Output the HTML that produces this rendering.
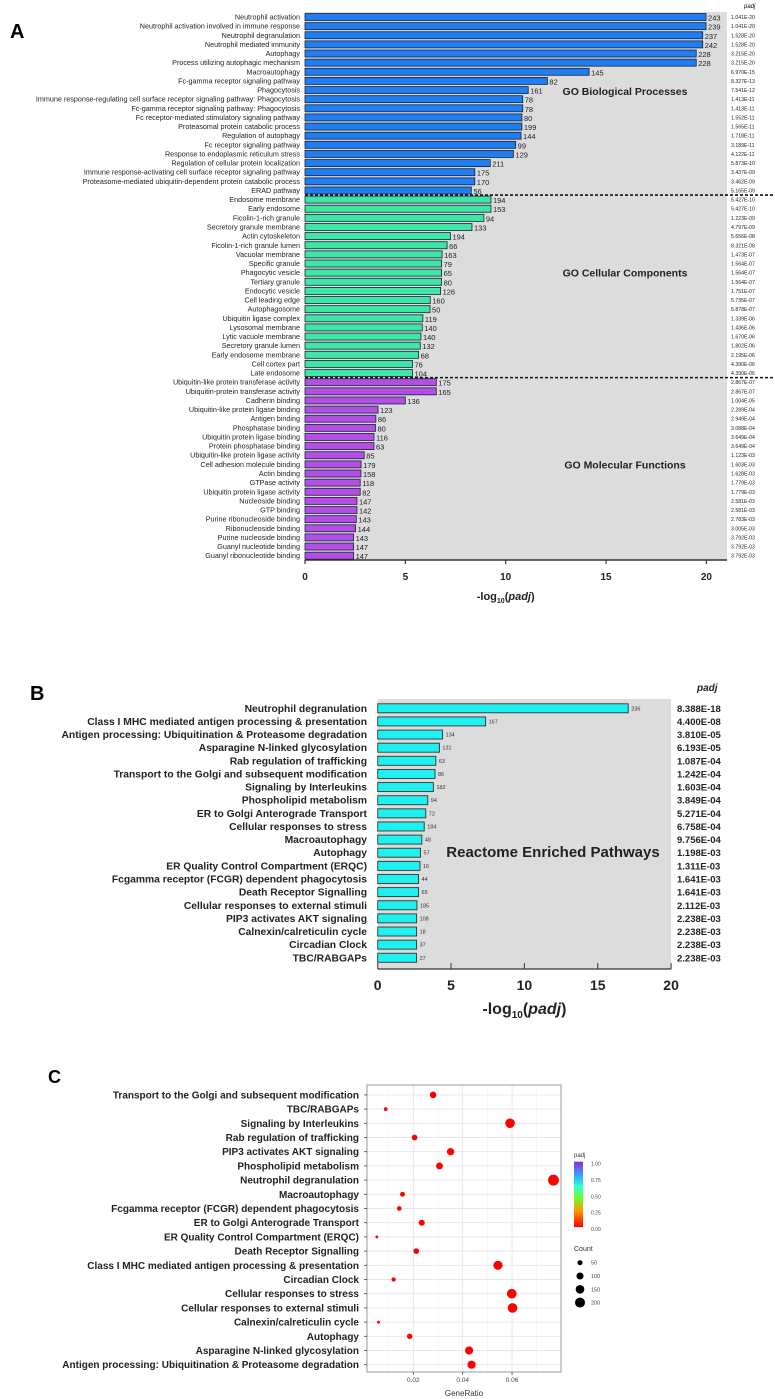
<!DOCTYPE html>
<html><head><meta charset="utf-8"><style>
html,body{margin:0;padding:0;background:#fff;}
svg{display:block;font-family:"Liberation Sans",sans-serif;}
</style></head><body>
<svg id="fig" width="775" height="1399" viewBox="0 0 775 1399" xmlns="http://www.w3.org/2000/svg"></svg>
<script>
// ---------- Panel A data ----------
const bpLabels=["Neutrophil activation","Neutrophil activation involved in immune response","Neutrophil degranulation","Neutrophil mediated immunity","Autophagy","Process utilizing autophagic mechanism","Macroautophagy","Fc-gamma receptor signaling pathway","Phagocytosis","Immune response-regulating cell surface receptor signaling pathway: Phagocytosis","Fc-gamma receptor signaling pathway: Phagocytosis","Fc receptor-mediated stimulatory signaling pathway","Proteasomal protein catabolic process","Regulation of autophagy","Fc receptor signaling pathway","Response to endoplasmic reticulum stress","Regulation of cellular protein localization","Immune response-activating cell surface receptor signaling pathway","Proteasome-mediated ubiquitin-dependent protein catabolic process","ERAD pathway"];
const bpPadj=[1.041e-20,1.041e-20,1.528e-20,1.528e-20,3.215e-20,3.215e-20,6.970e-15,8.327e-13,7.541e-12,1.413e-11,1.413e-11,1.552e-11,1.565e-11,1.718e-11,3.189e-11,4.122e-11,5.873e-10,3.437e-9,3.462e-9,5.165e-9];
const bpCounts=[243,239,237,242,228,228,145,82,161,78,78,80,199,144,99,129,211,175,170,56];
const ccLabels=["Endosome membrane","Early endosome","Ficolin-1-rich granule","Secretory granule membrane","Actin cytoskeleton","Ficolin-1-rich granule lumen","Vacuolar membrane","Specific granule","Phagocytic vesicle","Tertiary granule","Endocytic vesicle","Cell leading edge","Autophagosome","Ubiquitin ligase complex","Lysosomal membrane","Lytic vacuole membrane","Secretory granule lumen","Early endosome membrane","Cell cortex part","Late endosome"];
const ccPadj=[5.427e-10,5.427e-10,1.223e-9,4.797e-9,5.656e-8,8.321e-8,1.473e-7,1.564e-7,1.564e-7,1.564e-7,1.751e-7,5.735e-7,5.878e-7,1.339e-6,1.436e-6,1.670e-6,1.802e-6,2.195e-6,4.390e-6,4.390e-6];
const ccCounts=[194,153,94,133,194,66,163,79,65,80,126,160,50,119,140,140,132,68,76,104];
const mfLabels=["Ubiquitin-like protein transferase activity","Ubiquitin-protein transferase activity","Cadherin binding","Ubiquitin-like protein ligase binding","Antigen binding","Phosphatase binding","Ubiquitin protein ligase binding","Protein phosphatase binding","Ubiquitin-like protein ligase activity","Cell adhesion molecule binding","Actin binding","GTPase activity","Ubiquitin protein ligase activity","Nucleoside binding","GTP binding","Purine ribonucleoside binding","Ribonucleoside binding","Purine nucleoside binding","Guanyl nucleotide binding","Guanyl ribonucleotide binding"];
const mfPadj=[2.867e-7,2.867e-7,1.004e-5,2.289e-4,2.949e-4,3.088e-4,3.649e-4,3.649e-4,1.123e-3,1.603e-3,1.628e-3,1.779e-3,1.779e-3,2.581e-3,2.581e-3,2.783e-3,3.005e-3,3.792e-3,3.792e-3,3.792e-3];
const mfCounts=[175,165,136,123,86,80,116,63,85,179,158,118,82,147,142,143,144,143,147,147];
const aTicks=[0,5,10,15,20];
// ---------- Panel B data ----------
const bLabels=["Neutrophil degranulation","Class I MHC mediated antigen processing & presentation","Antigen processing: Ubiquitination & Proteasome degradation","Asparagine N-linked glycosylation","Rab regulation of trafficking","Transport to the Golgi and subsequent modification","Signaling by Interleukins","Phospholipid metabolism","ER to Golgi Anterograde Transport","Cellular responses to stress","Macroautophagy","Autophagy","ER Quality Control Compartment (ERQC)","Fcgamma receptor (FCGR) dependent phagocytosis","Death Receptor Signalling","Cellular responses to external stimuli","PIP3 activates AKT signaling","Calnexin/calreticulin cycle","Circadian Clock","TBC/RABGAPs"];
const bPadj=[8.388e-18,4.400e-8,3.810e-5,6.193e-5,1.087e-4,1.242e-4,1.603e-4,3.849e-4,5.271e-4,6.758e-4,9.756e-4,1.198e-3,1.311e-3,1.641e-3,1.641e-3,2.112e-3,2.238e-3,2.238e-3,2.238e-3,2.238e-3];
const bCounts=[236,167,134,131,63,86,182,94,72,184,48,57,16,44,65,185,108,18,37,27];
const bTicks=[0,5,10,15,20];
// ---------- Panel C data ----------
const cLabels=["Transport to the Golgi and subsequent modification","TBC/RABGAPs","Signaling by Interleukins","Rab regulation of trafficking","PIP3 activates AKT signaling","Phospholipid metabolism","Neutrophil degranulation","Macroautophagy","Fcgamma receptor (FCGR) dependent phagocytosis","ER to Golgi Anterograde Transport","ER Quality Control Compartment (ERQC)","Death Receptor Signalling","Class I MHC mediated antigen processing & presentation","Circadian Clock","Cellular responses to stress","Cellular responses to external stimuli","Calnexin/calreticulin cycle","Autophagy","Asparagine N-linked glycosylation","Antigen processing: Ubiquitination & Proteasome degradation"];
const cCounts=[86,27,182,63,108,94,236,48,44,72,16,65,167,37,184,185,18,57,131,134];
const cRatio=[0.0280,0.0088,0.0592,0.0205,0.0351,0.0306,0.0768,0.0156,0.0143,0.0234,0.0052,0.0212,0.0543,0.0120,0.0599,0.0602,0.0059,0.0185,0.0426,0.0436];
const cPadj=[1.242e-4,2.238e-3,1.603e-4,1.087e-4,2.238e-3,3.849e-4,8.388e-18,9.756e-4,1.641e-3,5.271e-4,1.311e-3,1.641e-3,4.400e-8,2.238e-3,6.758e-4,2.112e-3,2.238e-3,1.198e-3,6.193e-5,3.810e-5];
const cTicks=[0.02,0.04,0.06];
const cGrid=[0.01,0.03,0.05,0.07];
const legendVals=[1.00,0.75,0.50,0.25,0.00];
const countLegend=[50,100,150,200];

const NS="http://www.w3.org/2000/svg";
const svg=document.getElementById('fig');
function mk(tag,attrs,parent,text){const e=document.createElementNS(NS,tag);for(const k in attrs)e.setAttribute(k,attrs[k]);if(text!==undefined)e.textContent=text;(parent||svg).appendChild(e);return e;}
function fmt(v){let e=Math.floor(Math.log10(v));let m=v/Math.pow(10,e);if(m>=9.9995){m/=10;e++;}const s=e<0?'-':'';const ae=Math.abs(e);return m.toFixed(3)+'E'+s+(ae<10?'0':'')+ae;}
function nl(p){return -Math.log10(p);}

// ================= Panel A =================
const ax0=305, aux=20.07, ay0=17, arow=9.13, aAxisY=560;
const ax=v=>ax0+v*aux;
const ay=i=>ay0+i*arow;
let t;
t=mk('text',{x:10,y:38,'font-size':20,'font-weight':'bold'},svg,'A');

let r=mk('rect',{x:ax0,y:12,width:422,height:aAxisY-12,fill:'#dcdcdc'});

t=mk('text',{x:744,y:8,'font-size':6,'font-style':'italic'},svg,'padj');

const groups=[[bpLabels,bpPadj,bpCounts,'#1f7ff2','bp'],[ccLabels,ccPadj,ccCounts,'#3ee6a6','cc'],[mfLabels,mfPadj,mfCounts,'#b44fe6','mf']];
let idx=0;
groups.forEach(g=>{
  g[0].forEach((lab,i)=>{
    const y=ay(idx); const v=nl(g[1][i]);
    const l=mk('text',{x:300,y:y+2.5,'font-size':7.2,'text-anchor':'end',fill:'#222'},svg,lab);
    
    const b=mk('rect',{x:ax0,y:y-3.5,width:ax(v)-ax0,height:7,fill:g[3],stroke:'#1a2238','stroke-width':0.8});
    
    const c=mk('text',{x:ax(v)+2,y:y+3.5,'font-size':7.5,fill:'#222'},svg,String(g[2][i]));
    
    const p=mk('text',{x:731,y:y+2,'font-size':5.2,fill:'#222'},svg,fmt(g[1][i]));
    
    idx++;
  });
});
[ (ay(19)+ay(20))/2, (ay(39)+ay(40))/2 ].forEach(y=>{
  const d=mk('line',{x1:ax0,x2:775,y1:y,y2:y,stroke:'#111','stroke-width':1.6,'stroke-dasharray':'3,2'});
  
});
[['GO Biological Processes',ay(8)+5],['GO Cellular Components',ay(28)+4],['GO Molecular Functions',ay(49)+4]].forEach(a=>{
  const g=mk('text',{x:625,y:a[1],'font-size':10.5,'font-weight':'bold','text-anchor':'middle',fill:'#222'},svg,a[0]);
  
});
mk('line',{x1:ax0,x2:727,y1:aAxisY,y2:aAxisY,stroke:'#333','stroke-width':1.5});
aTicks.forEach(v=>{
  mk('line',{x1:ax(v),x2:ax(v),y1:aAxisY,y2:aAxisY+4,stroke:'#333','stroke-width':1.2});
  const tl=mk('text',{x:ax(v),y:580,'font-size':10,'font-weight':'bold','text-anchor':'middle',fill:'#222'},svg,String(v));
  
});
t=mk('text',{x:ax(10),y:600,'font-size':11,'font-weight':'bold','text-anchor':'middle',fill:'#222'});

mk('tspan',{},t,'-log');mk('tspan',{'font-size':7,dy:3},t,'10');mk('tspan',{dy:-3},t,'(');mk('tspan',{'font-style':'italic'},t,'padj');mk('tspan',{},t,')');

// ================= Panel B =================
const bx0=377.7, bux=14.67, by0=708.3, brow=13.13, bAxisY=969;
const bx=v=>bx0+v*bux;
const by=i=>by0+i*brow;
t=mk('text',{x:30,y:700,'font-size':20,'font-weight':'bold'},svg,'B');

r=mk('rect',{x:bx0,y:699,width:bx(20)-bx0,height:bAxisY-699,fill:'#dcdcdc'});

t=mk('text',{x:697,y:691,'font-size':10,'font-style':'italic','font-weight':'bold',fill:'#222'},svg,'padj');

bLabels.forEach((lab,i)=>{
  const y=by(i), v=nl(bPadj[i]);
  const l=mk('text',{x:367,y:y+3.5,'font-size':10.3,'font-weight':'bold','text-anchor':'end',fill:'#222'},svg,lab);
  
  const b=mk('rect',{x:bx0,y:y-4.5,width:bx(v)-bx0,height:9,fill:'#1ff0f0',stroke:'#333','stroke-width':0.9});
  
  const c=mk('text',{x:bx(v)+3,y:y+2,'font-size':5.5,fill:'#333'},svg,String(bCounts[i]));
  
  const p=mk('text',{x:677,y:y+3.5,'font-size':9.5,'font-weight':'bold',fill:'#222'},svg,fmt(bPadj[i]));
  
});
t=mk('text',{x:553,y:857,'font-size':15,'font-weight':'bold','text-anchor':'middle',fill:'#222'},svg,'Reactome Enriched Pathways');

mk('line',{x1:bx0,x2:bx(20),y1:bAxisY,y2:bAxisY,stroke:'#333','stroke-width':1.2});
bTicks.forEach(v=>{
  mk('line',{x1:bx(v),x2:bx(v),y1:bAxisY-6,y2:bAxisY,stroke:'#333','stroke-width':1});
  const tl=mk('text',{x:bx(v),y:990,'font-size':14,'font-weight':'bold','text-anchor':'middle',fill:'#222'},svg,String(v));
  
});
t=mk('text',{x:bx(10),y:1014,'font-size':16,'font-weight':'bold','text-anchor':'middle',fill:'#222'});

mk('tspan',{},t,'-log');mk('tspan',{'font-size':10,dy:4},t,'10');mk('tspan',{dy:-4},t,'(');mk('tspan',{'font-style':'italic'},t,'padj');mk('tspan',{},t,')');

// ================= Panel C =================
const cx0=364, cux=2467, cy0=1094.9, crow=14.2, cL=367, cR=561, cT=1085, cB=1372;
const cx=v=>cx0+v*cux;
const cy=i=>cy0+i*crow;
const rad=n=>0.355*Math.sqrt(n);
function pcol(p){const h=Math.max(0,Math.min(1,p))*270;return 'hsl('+h+',100%,50%)';}
t=mk('text',{x:48,y:1083,'font-size':18,'font-weight':'bold'},svg,'C');

r=mk('rect',{x:cL,y:cT,width:cR-cL,height:cB-cT,fill:'#fff'});

cGrid.forEach(v=>{mk('line',{x1:cx(v),x2:cx(v),y1:cT,y2:cB,stroke:'#f2f2f2','stroke-width':0.6});});
cTicks.forEach(v=>{mk('line',{x1:cx(v),x2:cx(v),y1:cT,y2:cB,stroke:'#e6e6e6','stroke-width':0.9});});
cLabels.forEach((lab,i)=>{mk('line',{x1:cL,x2:cR,y1:cy(i),y2:cy(i),stroke:'#e6e6e6','stroke-width':0.9});});
mk('rect',{x:cL,y:cT,width:cR-cL,height:cB-cT,fill:'none',stroke:'#9a9a9a','stroke-width':1});
cLabels.forEach((lab,i)=>{
  const y=cy(i);
  const l=mk('text',{x:359,y:y+3.5,'font-size':10,'font-weight':'bold','text-anchor':'end',fill:'#222'},svg,lab);
  
  mk('line',{x1:364,x2:cL,y1:y,y2:y,stroke:'#444','stroke-width':0.8});
  const d=mk('circle',{cx:cx(cRatio[i]),cy:y,r:rad(cCounts[i]),fill:pcol(cPadj[i])});
  
});
cTicks.forEach(v=>{
  mk('line',{x1:cx(v),x2:cx(v),y1:cB,y2:cB+3,stroke:'#444','stroke-width':0.8});
  const tl=mk('text',{x:cx(v),y:1382,'font-size':6.5,'text-anchor':'middle',fill:'#444'},svg,v.toFixed(2));
  
});
t=mk('text',{x:464,y:1396,'font-size':8,'text-anchor':'middle',fill:'#333'},svg,'GeneRatio');

// legend
t=mk('text',{x:574,y:1157,'font-size':6,fill:'#333'},svg,'padj');

const defs=mk('defs',{});
const lg=mk('linearGradient',{id:'rb',x1:0,y1:1,x2:0,y2:0},defs);
[[0,'#ff0000'],[0.25,'#ff9900'],[0.45,'#66ff33'],[0.62,'#33ffcc'],[0.78,'#33aaff'],[1,'#8a2be2']].forEach(s=>mk('stop',{offset:s[0],'stop-color':s[1]},lg));
r=mk('rect',{x:574,y:1161.7,width:9,height:65.3,fill:'url(#rb)'});

legendVals.forEach(v=>{
  const y=1227-v*65.3+2;
  const tl=mk('text',{x:591,y:y+2,'font-size':5,fill:'#444'},svg,v.toFixed(2));
  
});
t=mk('text',{x:574,y:1251,'font-size':7,fill:'#333'},svg,'Count');

countLegend.forEach((n,i)=>{
  const y=1262.7+i*13.3;
  const d=mk('circle',{cx:580,cy:y,r:rad(n),fill:'#000'});
  
  const tl=mk('text',{x:591,y:y+2,'font-size':5.5,fill:'#444'},svg,String(n));
  
});
</script>
</body></html>
